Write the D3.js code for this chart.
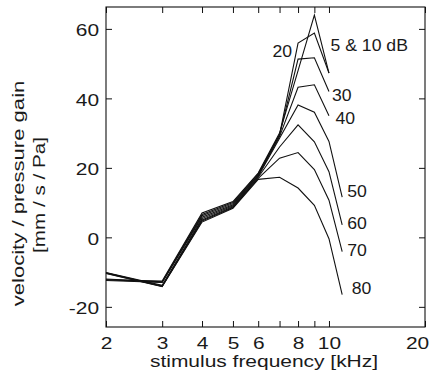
<!DOCTYPE html>
<html>
<head>
<meta charset="utf-8">
<script src="https://cdn.jsdelivr.net/npm/d3@7"></script>
<style>
  html, body { margin: 0; padding: 0; background: #fff; }
  svg { display: block; }
  text { font-family: "Liberation Sans", Arial, Helvetica, sans-serif; fill: #1a1a1a; }
</style>
</head>
<body>
<svg id="chart" width="439" height="379"></svg>
<script>
// ---- data ----
const frequencies = [2, 3, 4, 5, 6, 7, 8, 9, 10, 11];   // kHz
const levels = ["5 & 10 dB", "20", "30", "40", "50", "60", "70", "80"];
const gain_5_10 = [-12.2, -12.6, 7.0, 10.3, 18.5, 30.0, 48.0, 64.0, 47.3, null];
const gain_20   = [-12.0, -12.8, 6.6, 10.0, 18.3, 29.5, 55.9, 58.8, 47.3, null];
const gain_30   = [-12.2, -12.9, 6.2, 9.7, 18.0, 29.5, 51.3, 51.7, 42.0, null];
const gain_40   = [-12.4, -13.0, 5.8, 9.4, 17.8, 29.0, 43.2, 43.9, 35.0, null];
const gain_50   = [-10.1, -13.8, 5.4, 9.1, 17.5, 28.5, 38.1, 36.0, 27.6, 11.6];
const gain_60   = [-10.2, -14.0, 5.0, 8.8, 17.3, 26.0, 32.4, 27.5, 18.9, 3.6];
const gain_70   = [-10.3, -14.1, 4.7, 8.6, 17.0, 22.8, 24.4, 19.5, 10.7, -4.1];
const gain_80   = [-10.4, -14.2, 4.4, 8.4, 16.7, 17.3, 14.2, 9.2, -0.4, -16.5];
const seriesValues = [gain_5_10, gain_20, gain_30, gain_40, gain_50, gain_60, gain_70, gain_80];
const xTickValues = [2, 3, 4, 5, 6, 7, 8, 9, 10, 20];
const xTickLabels = ["2", "3", "4", "5", "6", "", "8", "", "10", "20"];
const yTickValues = [-20, 0, 20, 40, 60];
const yTickLabels = ["-20", "0", "20", "40", "60"];
const xTitle = "stimulus frequency [kHz]";
const yTitle = ["velocity / pressure gain", "[mm / s / Pa]"];

// ---- layout ----
const L = 106, R = 425, T = 7, B = 327;
const svg = d3.select("#chart");
const x = d3.scaleLog().domain([2, 20]).range([L, R]);
const y = d3.scaleLinear().domain([-25.8, 66.3]).range([B, T]);

// horizontally widen a text around its own anchor point
function widen(sel, sx) {
  sel.each(function () {
    const t = d3.select(this);
    const ax = +t.attr("x") || 0, ay = +t.attr("y") || 0;
    t.attr("transform", `translate(${ax},${ay}) scale(${sx},1) translate(${-ax},${-ay})`);
  });
}

// lines
const line = d3.line()
  .defined(d => d.v !== null)
  .x(d => x(d.f))
  .y(d => y(d.v));

seriesValues.forEach((vals) => {
  const pts = frequencies.map((f, i) => ({ f, v: vals[i] }));
  svg.append("path")
    .attr("d", line(pts))
    .attr("fill", "none")
    .attr("stroke", "#111")
    .attr("stroke-width", 1.1)
    .attr("stroke-linejoin", "miter");
});

// axes (ticks inward)
const tickLen = 6;
const fmtX = (d) => xTickLabels[xTickValues.indexOf(d)];
const fmtY = (d) => yTickLabels[yTickValues.indexOf(d)];
const xAxisB = d3.axisBottom(x).tickValues(xTickValues).tickFormat(fmtX)
  .tickSizeInner(-tickLen).tickSizeOuter(0).tickPadding(9.5);
const xAxisT = d3.axisTop(x).tickValues(xTickValues).tickFormat("")
  .tickSizeInner(-tickLen).tickSizeOuter(0);
const yAxisL = d3.axisLeft(y).tickValues(yTickValues).tickFormat(fmtY)
  .tickSizeInner(-tickLen).tickSizeOuter(0).tickPadding(7);
const yAxisR = d3.axisRight(y).tickValues(yTickValues).tickFormat("")
  .tickSizeInner(-tickLen).tickSizeOuter(0);

const gB = svg.append("g").attr("transform", `translate(0,${B})`).call(xAxisB);
const gT = svg.append("g").attr("transform", `translate(0,${T})`).call(xAxisT);
const gL = svg.append("g").attr("transform", `translate(${L},0)`).call(yAxisL);
const gR = svg.append("g").attr("transform", `translate(${R},0)`).call(yAxisR);

[gB, gT, gL, gR].forEach(g => {
  g.select(".domain").remove();
  g.selectAll(".tick line").attr("stroke", "#111").attr("stroke-width", 1);
  g.selectAll("text").style("font-size", "17px").attr("fill", "#1a1a1a");
});
gB.selectAll(".tick text").attr("dy", "0.71em");
gB.selectAll(".tick text").filter(d => d === 20).attr("x", -8);
gL.selectAll(".tick text").attr("dy", "0.4em");
widen(gB.selectAll(".tick text"), 1.23);
widen(gL.selectAll(".tick text"), 1.23);

// frame
svg.append("rect")
  .attr("x", L).attr("y", T).attr("width", R - L).attr("height", B - T)
  .attr("fill", "none").attr("stroke", "#111").attr("stroke-width", 1.1);

// axis titles
const xt = svg.append("text")
  .attr("x", 264).attr("y", 367.5)
  .attr("text-anchor", "middle")
  .style("font-size", "16px")
  .text(xTitle);
widen(xt, 1.31);

svg.append("text")
  .attr("transform", "translate(23.5,193.5) rotate(-90) scale(1.38,1)")
  .attr("text-anchor", "middle")
  .style("font-size", "16px")
  .text(yTitle[0]);
svg.append("text")
  .attr("transform", "translate(45,195) rotate(-90) scale(1.29,1)")
  .attr("text-anchor", "middle")
  .style("font-size", "16px")
  .text(yTitle[1]);

// curve labels (anchored to the data they name)
const labelSpecs = [
  { s: 0, f: 10, dx: 1.5, v: 53.5, anchor: "start" },
  { s: 1, f: 8,  dx: -6, v: 51.9, anchor: "end" },
  { s: 2, f: 10, dx: 3, v: 39.3, anchor: "start" },
  { s: 3, f: 10, dx: 6.5, v: 32.7, anchor: "start" },
  { s: 4, f: 11, dx: 5, v: 11.6, anchor: "start" },
  { s: 5, f: 11, dx: 5, v: 2.4, anchor: "start" },
  { s: 6, f: 11, dx: 5, v: -5.5, anchor: "start" },
  { s: 7, f: 11, dx: 9.5, v: -16.3, anchor: "start" }
];
labelSpecs.forEach(l => {
  const t = svg.append("text")
    .attr("x", x(l.f) + l.dx)
    .attr("y", y(l.v))
    .attr("text-anchor", l.anchor)
    .style("font-size", "16.5px")
    .text(levels[l.s]);
  widen(t, 1.07);
});
</script>
</body>
</html>
